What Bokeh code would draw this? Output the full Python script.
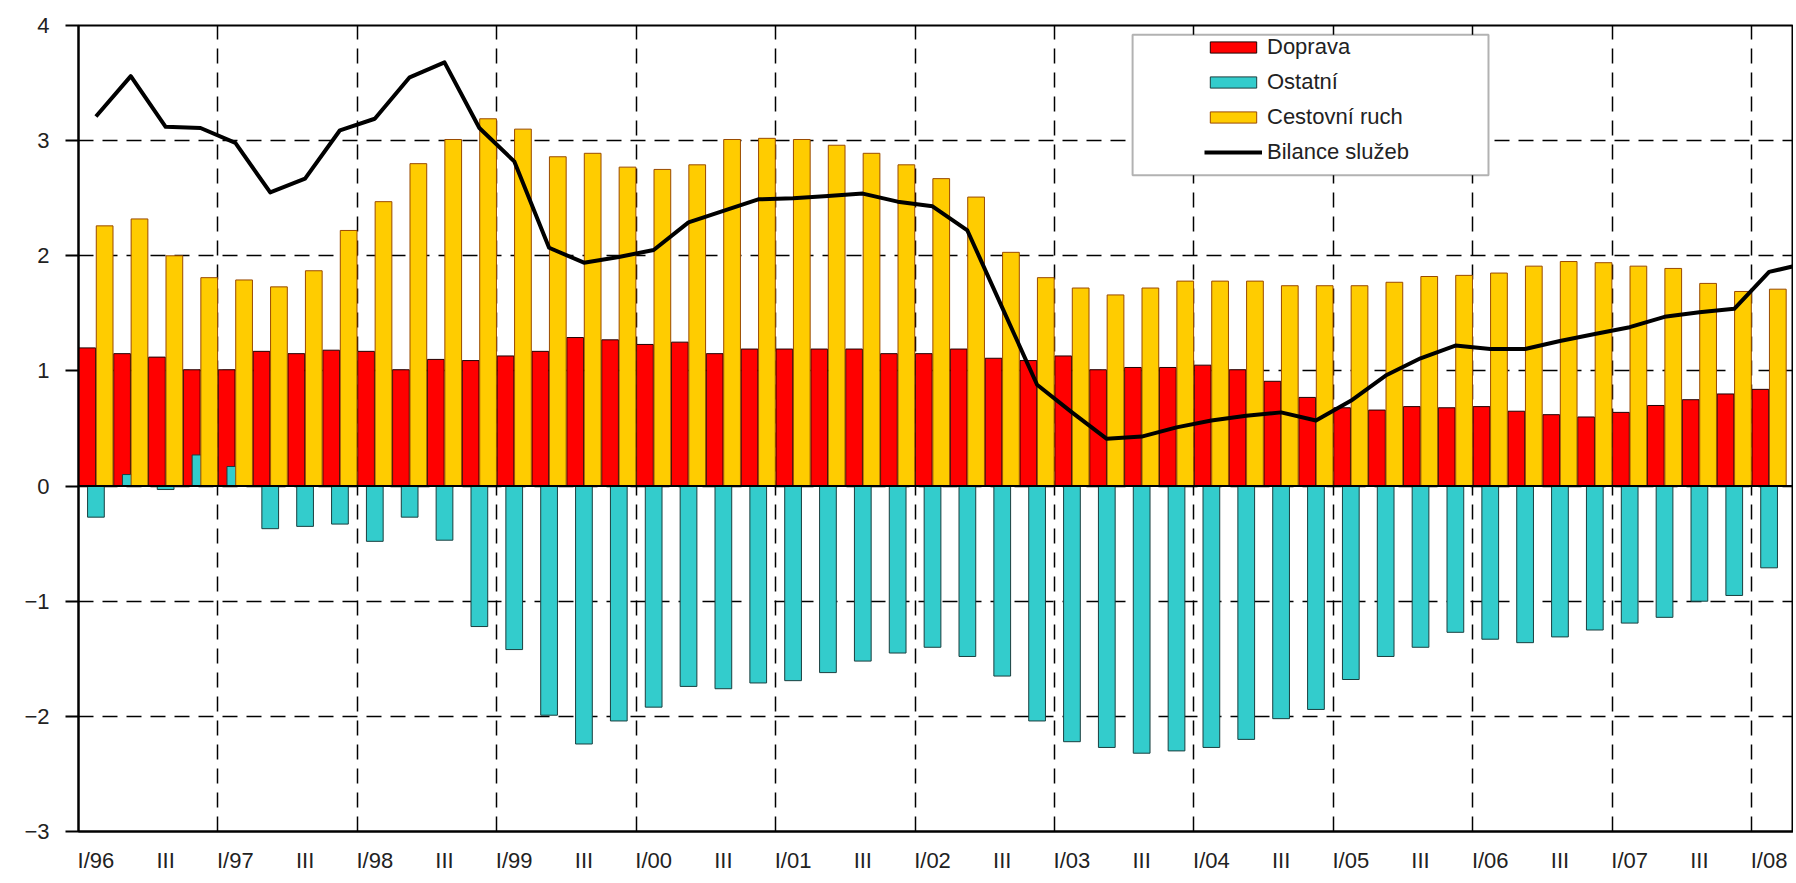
import numpy as np
from bokeh.plotting import figure
from bokeh.models import (Range1d, FixedTicker, Grid, Span, Legend, LegendItem,
                          BoxAnnotation, ColumnDataSource)
from bokeh.embed import file_html
from bokeh.resources import INLINE

# ---- data (quarters I/96 .. I/08, every second quarter labelled) ----
x_labels = ["I/96", "III", "I/97", "III", "I/98", "III", "I/99", "III", "I/00", "III",
            "I/01", "III", "I/02", "III", "I/03", "III", "I/04", "III", "I/05", "III",
            "I/06", "III", "I/07", "III", "I/08"]

doprava = [1.20, 1.15, 1.12, 1.01, 1.01, 1.17, 1.15, 1.18, 1.17, 1.01,
           1.10, 1.09, 1.13, 1.17, 1.29, 1.27, 1.23, 1.25, 1.15, 1.19,
           1.19, 1.19, 1.19, 1.15, 1.15, 1.19, 1.11, 1.09, 1.13, 1.01,
           1.03, 1.03, 1.05, 1.01, 0.91, 0.77, 0.68, 0.66, 0.69, 0.68,
           0.69, 0.65, 0.62, 0.60, 0.64, 0.70, 0.75, 0.80, 0.84]

ostatni = [-0.27, 0.10, -0.03, 0.27, 0.17, -0.37, -0.35, -0.33, -0.48, -0.27,
           -0.47, -1.22, -1.42, -1.99, -2.24, -2.04, -1.92, -1.74, -1.76, -1.71,
           -1.69, -1.62, -1.52, -1.45, -1.40, -1.48, -1.65, -2.04, -2.22, -2.27,
           -2.32, -2.30, -2.27, -2.20, -2.02, -1.94, -1.68, -1.48, -1.40, -1.27,
           -1.33, -1.36, -1.31, -1.25, -1.19, -1.14, -1.00, -0.95, -0.71]

cestovni_ruch = [2.26, 2.32, 2.00, 1.81, 1.79, 1.73, 1.87, 2.22, 2.47, 2.80,
                 3.01, 3.19, 3.10, 2.86, 2.89, 2.77, 2.75, 2.79, 3.01, 3.02,
                 3.01, 2.96, 2.89, 2.79, 2.67, 2.51, 2.03, 1.81, 1.72, 1.66,
                 1.72, 1.78, 1.78, 1.78, 1.74, 1.74, 1.74, 1.77, 1.82, 1.83,
                 1.85, 1.91, 1.95, 1.94, 1.91, 1.89, 1.76, 1.69, 1.71]

# last value belongs to the next quarter, only partly visible at the right edge
bilance_sluzeb = [3.21, 3.56, 3.12, 3.11, 2.98, 2.55, 2.67, 3.09, 3.19, 3.55,
                  3.68, 3.11, 2.82, 2.07, 1.94, 1.99, 2.05, 2.29, 2.39, 2.49,
                  2.50, 2.52, 2.54, 2.47, 2.43, 2.22, 1.55, 0.88, 0.64, 0.41,
                  0.43, 0.51, 0.57, 0.61, 0.64, 0.57, 0.74, 0.96, 1.11, 1.22,
                  1.19, 1.19, 1.26, 1.32, 1.38, 1.47, 1.51, 1.54, 1.86, 1.93]

y_ticks = [-3, -2, -1, 0, 1, 2, 3, 4]

FONT = "Liberation Sans"
n = len(doprava)
idx = np.arange(n)
bar_w = 0.48

src = ColumnDataSource(dict(
    xr=idx - 0.25, xt=idx + 0.0, xy=idx + 0.25,
    doprava=doprava, ostatni=ostatni, cestovni=cestovni_ruch))
line_src = ColumnDataSource(dict(x=np.arange(len(bilance_sluzeb)), y=bilance_sluzeb))

p = figure(width=1793, height=875,
           x_range=Range1d(-0.5, n - 0.3), y_range=Range1d(y_ticks[0], y_ticks[-1]),
           output_backend="svg", toolbar_location=None,
           min_border=0, min_border_left=78, min_border_right=0,
           min_border_top=25, min_border_bottom=43)

p.background_fill_color = "white"
p.border_fill_color = "white"
p.outline_line_color = "black"
p.outline_line_width = 2

# grids
p.xgrid.grid_line_color = None
p.ygrid.ticker = FixedTicker(ticks=y_ticks)
p.ygrid.grid_line_color = "black"
p.ygrid.grid_line_dash = "15 9"
p.ygrid.grid_line_width = 1.5
year_bounds = [i - 0.5 for i in range(4, n, 4)]
vgrid = Grid(dimension=0, ticker=FixedTicker(ticks=year_bounds),
             grid_line_color="black", grid_line_dash="15 9", grid_line_width=1.5)
p.add_layout(vgrid)

# bars
r_dop = p.vbar(x="xr", top="doprava", bottom=0, width=bar_w, source=src,
               fill_color="#FF0000", line_color="#200000", line_width=1)
r_ost = p.vbar(x="xt", top="ostatni", bottom=0, width=bar_w, source=src,
               fill_color="#33CCCC", line_color="#1a3f3f", line_width=1)
r_ces = p.vbar(x="xy", top="cestovni", bottom=0, width=bar_w, source=src,
               fill_color="#FFCC00", line_color="#9a4a00", line_width=1)

p.add_layout(Span(location=0, dimension="width", line_color="black", line_width=2))

r_bil = p.line(x="x", y="y", source=line_src, line_color="black", line_width=4,
               line_join="round")

# axes
p.yaxis.ticker = FixedTicker(ticks=y_ticks)
p.yaxis.major_tick_out = 13
p.yaxis.major_tick_in = 0
p.yaxis.minor_tick_line_color = None
p.yaxis.axis_line_color = "black"
p.yaxis.axis_line_width = 2
p.yaxis.major_tick_line_width = 2
p.yaxis.major_label_standoff = 16
p.yaxis.major_label_text_font = FONT
p.yaxis.major_label_text_font_size = "22px"
p.yaxis.major_label_text_color = "#222222"

label_pos = list(range(0, 2 * len(x_labels), 2))
p.xaxis.ticker = FixedTicker(ticks=label_pos)
p.xaxis.major_label_overrides = {pos: lab for pos, lab in zip(label_pos, x_labels)}
p.xaxis.major_tick_out = 0
p.xaxis.major_tick_in = 0
p.xaxis.minor_tick_line_color = None
p.xaxis.axis_line_color = "black"
p.xaxis.axis_line_width = 2
p.xaxis.major_label_standoff = 16
p.xaxis.major_label_text_font = FONT
p.xaxis.major_label_text_font_size = "22px"
p.xaxis.major_label_text_color = "#222222"

# legend frame
p.add_layout(BoxAnnotation(left=29.74, right=39.95, top=3.92, bottom=2.70,
                           fill_color="white", fill_alpha=1.0,
                           line_color="black", line_width=2))

legend = Legend(items=[LegendItem(label="Doprava", renderers=[r_dop]),
                       LegendItem(label="Ostatní", renderers=[r_ost]),
                       LegendItem(label="Cestovní ruch", renderers=[r_ces]),
                       LegendItem(label="Bilance služeb", renderers=[r_bil])],
                location=(1126, 666), orientation="vertical",
                border_line_alpha=0, background_fill_alpha=0,
                padding=0, margin=0, spacing=9,
                glyph_width=58, glyph_height=14, label_height=25,
                label_standoff=5,
                label_text_font=FONT, label_text_font_size="22px",
                label_text_color="#222222")
p.add_layout(legend)

open("out.html", "w").write(file_html(p, INLINE))
